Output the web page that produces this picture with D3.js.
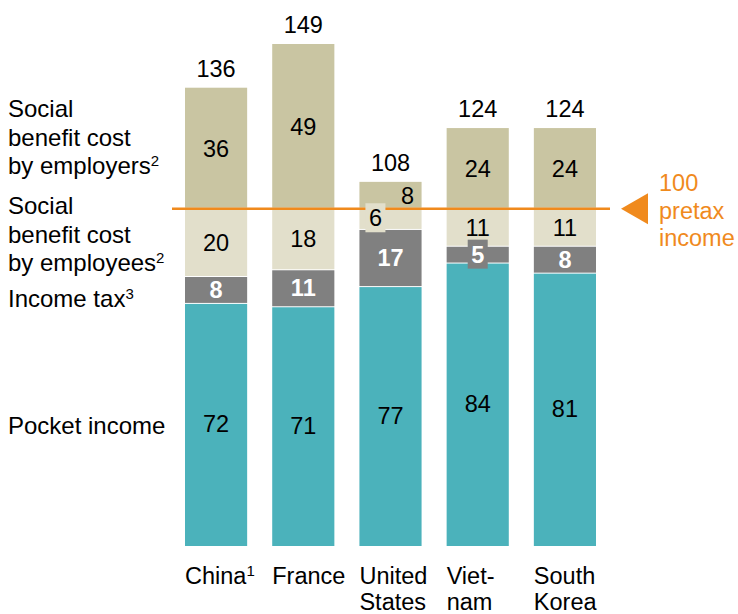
<!DOCTYPE html>
<html>
<head>
<meta charset="utf-8">
<script src="https://cdn.jsdelivr.net/npm/d3@7"></script>
<style>
  html, body { margin: 0; padding: 0; background: #fff; }
  svg { display: block; font-family: "Liberation Sans", Arial, sans-serif; }
</style>
</head>
<body>
<svg id="chart" width="738" height="614"></svg>
<script>
// Cost of employment per 100 of pretax income, by country
const countries = ["China", "France", "United States", "Vietnam", "South Korea"];
const countryLines = [["China¹"], ["France"], ["United", "States"], ["Viet-", "nam"], ["South", "Korea"]];
const pocketIncome = [72, 71, 77, 84, 81];
const incomeTax = [8, 11, 17, 5, 8];
const employeeCost = [20, 18, 6, 11, 11];
const employerCost = [36, 49, 8, 24, 24];
const totals = [136, 149, 108, 124, 124];
const pretaxLevel = 100;

const seriesKeys = ["pocket", "tax", "employee", "employer"];
const seriesValues = { pocket: pocketIncome, tax: incomeTax, employee: employeeCost, employer: employerCost };
const colors = { pocket: "#4bb2bb", tax: "#808080", employee: "#e2dfcb", employer: "#c9c5a2" };
const labelColors = { pocket: "#000", tax: "#fff", employee: "#000", employer: "#000" };

const table = countries.map((c, i) => {
  const row = { country: c };
  seriesKeys.forEach(k => row[k] = seriesValues[k][i]);
  return row;
});
const stacked = d3.stack().keys(seriesKeys)(table);

const svg = d3.select("#chart");
const baseY = 545;
const y = d3.scaleLinear().domain([0, 149]).range([baseY, 44]);
const x = d3.scaleBand().domain(countries).range([185, 596])
  .paddingInner(25 / 87).paddingOuter(0);

const orange = "#f08a1d";
const fs = 23.5;
const legendFs = 24;
const supFs = 15;

// stacked segments, separated by thin white gaps
const layers = svg.append("g").selectAll("g").data(stacked).join("g")
  .attr("fill", d => colors[d.key]);
layers.selectAll("rect").data(d => d.map(p => ({ key: d.key, p }))).join("rect")
  .attr("x", d => x(d.p.data.country))
  .attr("width", x.bandwidth())
  .attr("y", d => y(d.p[1]) + (d.key === "employer" ? 0 : 1))
  .attr("height", d => y(d.p[0]) - y(d.p[1]) - 1 + (d.key === "pocket" ? 1 : 0));

// pretax reference line
svg.append("line")
  .attr("x1", 172).attr("x2", 610)
  .attr("y1", y(pretaxLevel)).attr("y2", y(pretaxLevel))
  .attr("stroke", orange).attr("stroke-width", 2.4);

// segment labels
stacked.forEach(layer => {
  layer.forEach(p => {
    const c = p.data.country;
    const v = p.data[layer.key];
    const bold = layer.key === "tax";
    let cx = x(c) + x.bandwidth() / 2;
    let cy = (y(p[0]) + y(p[1])) / 2;
    let boxed = false;
    if (c === "United States" && layer.key === "employer") cx = x(c) + x.bandwidth() - 14;
    if (c === "United States" && layer.key === "employee") { cx = x(c) + 16; cy = y(p[1]) + 9; boxed = true; }
    if (c === "Vietnam" && layer.key === "tax") boxed = true;
    if (boxed) {
      svg.append("rect")
        .attr("x", cx - 10).attr("y", cy - 14.5)
        .attr("width", 20).attr("height", 29)
        .attr("fill", colors[layer.key]);
    }
    svg.append("text")
      .attr("x", cx).attr("y", cy)
      .attr("dy", "0.36em")
      .attr("text-anchor", "middle")
      .attr("font-size", fs)
      .attr("font-weight", bold ? "bold" : "normal")
      .attr("fill", labelColors[layer.key])
      .text(v);
  });
});

// totals above bars
svg.append("g").selectAll("text").data(countries).join("text")
  .attr("x", c => x(c) + x.bandwidth() / 2)
  .attr("y", (c, i) => y(totals[i]) - 11)
  .attr("text-anchor", "middle")
  .attr("font-size", fs)
  .attr("fill", "#000")
  .text((c, i) => totals[i]);

// category labels, left-aligned under each bar
const catG = svg.append("g");
countries.forEach((c, i) => {
  const t = catG.append("text")
    .attr("x", x(c)).attr("y", 584)
    .attr("font-size", fs).attr("fill", "#000");
  countryLines[i].forEach((line, j) => {
    const sup = /¹$/.test(line);
    const tsp = t.append("tspan").attr("x", x(c)).attr("dy", j === 0 ? 0 : 26);
    if (sup) {
      tsp.text(line.replace("¹", ""));
      t.append("tspan").attr("font-size", supFs).attr("dy", -8).text("1");
    } else tsp.text(line);
  });
});

// series legend on the left
const legend = [
  { lines: ["Social", "benefit cost", "by employers"], sup: "2", y0: 117 },
  { lines: ["Social", "benefit cost", "by employees"], sup: "2", y0: 214 },
  { lines: ["Income tax"], sup: "3", y0: 307 },
  { lines: ["Pocket income"], sup: null, y0: 434 }
];
legend.forEach(L => {
  L.lines.forEach((line, j) => {
    const t = svg.append("text")
      .attr("x", 8).attr("y", L.y0 + j * 28.5)
      .attr("font-size", legendFs).attr("fill", "#000");
    t.append("tspan").text(line);
    if (L.sup && j === L.lines.length - 1) {
      t.append("tspan").attr("font-size", supFs).attr("dy", -8).text(L.sup);
    }
  });
});

// pretax marker
const ay = y(pretaxLevel);
svg.append("path")
  .attr("d", `M621,${ay} L648,${ay - 15.5} L648,${ay + 15.5} Z`)
  .attr("fill", orange);
["100", "pretax", "income"].forEach((line, j) => {
  svg.append("text")
    .attr("x", 659).attr("y", 191 + j * 27.5)
    .attr("font-size", fs).attr("fill", orange)
    .text(line);
});
</script>
</body>
</html>
